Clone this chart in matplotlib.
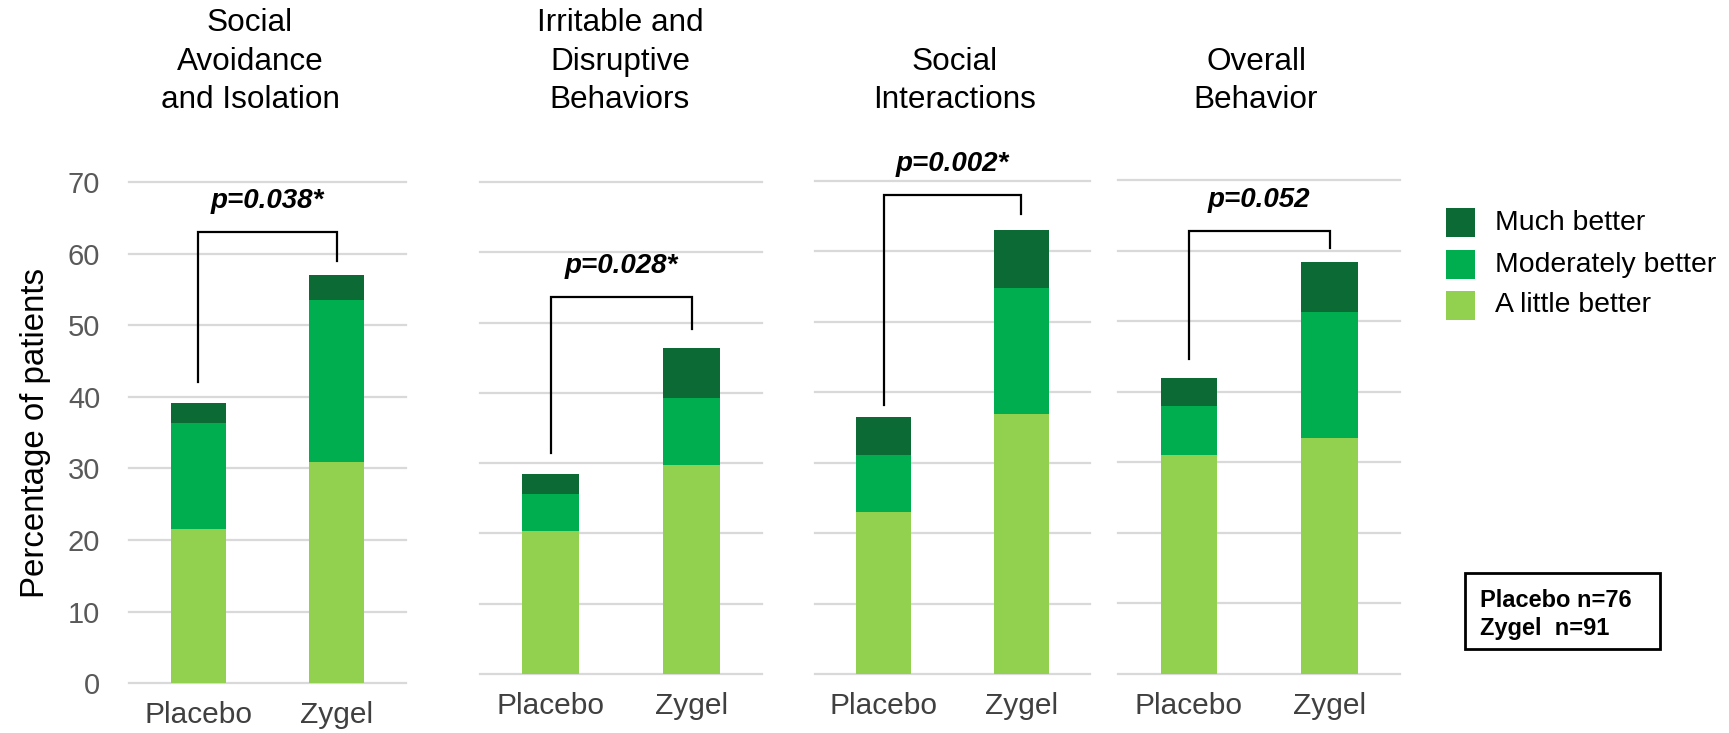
import matplotlib
matplotlib.use("Agg")
import matplotlib.pyplot as plt
from matplotlib.patches import Rectangle

plt.rcParams['font.family'] = ['Liberation Sans', 'DejaVu Sans']

# ---------------- data ----------------
panel_titles = ["Social\nAvoidance\nand Isolation",
                "Irritable and\nDisruptive\nBehaviors",
                "Social\nInteractions",
                "Overall\nBehavior"]
groups = ["Placebo", "Zygel"]
series_names = ["Much better", "Moderately better", "A little better"]

little_placebo = [21.5, 20.3, 23.0, 31.1]
little_zygel = [30.9, 29.8, 36.9, 33.4]
moderate_placebo = [14.9, 5.3, 8.0, 6.9]
moderate_zygel = [22.7, 9.5, 17.9, 17.9]
much_placebo = [2.7, 2.8, 5.5, 4.0]
much_zygel = [3.4, 7.1, 8.2, 7.1]

p_labels = ["p=0.038*", "p=0.028*", "p=0.002*", "p=0.052"]
bracket_top = [63.1, 53.7, 68.0, 62.8]
bracket_left_end = [42.1, 31.5, 38.1, 44.7]
bracket_right_end = [59.0, 49.1, 65.2, 60.4]

y_ticks = [0, 10, 20, 30, 40, 50, 60, 70]
n_lines = ["Placebo n=76", "Zygel  n=91"]

# ---------------- style ----------------
C_MUCH = "#0c6a34"
C_MOD = "#00ae4f"
C_LITTLE = "#92d050"
GRID = "#d9d9d9"

W, H = 1729, 733
fig = plt.figure(figsize=(W / 100, H / 100), dpi=100)

# axes boxes in pixels: left, right, y(0), y(70)
boxes = [(129.3, 406.0, 683.1, 182.3),
         (480.0, 762.3, 674.0, 182.0),
         (815.0, 1090.0, 674.0, 180.5),
         (1118.3, 1400.0, 674.0, 180.0)]
title_x = [250, 620, 955, 1256]

for i, (l, r, y0, y70) in enumerate(boxes):
    ax = fig.add_axes([l / W, 1 - y0 / H, (r - l) / W, (y0 - y70) / H])
    x = [0, 1]
    little = [little_placebo[i], little_zygel[i]]
    mod = [moderate_placebo[i], moderate_zygel[i]]
    much = [much_placebo[i], much_zygel[i]]
    b2 = [a + b for a, b in zip(little, mod)]
    ax.bar(x, little, width=0.4, color=C_LITTLE, zorder=3)
    ax.bar(x, mod, width=0.4, bottom=little, color=C_MOD, zorder=3)
    ax.bar(x, much, width=0.4, bottom=b2, color=C_MUCH, zorder=3)

    ax.set_xlim(-0.5, 1.5)
    ax.set_ylim(0, 70)
    ax.set_yticks(y_ticks)
    ax.yaxis.grid(True, color=GRID, linewidth=1.6)
    for gl in ax.get_ygridlines():
        gl.set_clip_on(False)
    ax.set_axisbelow(True)
    for s in ax.spines.values():
        s.set_visible(False)
    ax.set_xticks(x)
    ax.set_xticklabels(groups)
    ax.tick_params(axis='x', length=0, pad=13, labelsize=21.5, labelcolor="#404040")
    if i == 0:
        ax.tick_params(axis='y', length=0, pad=21, labelsize=21, labelcolor="#595959")
        ax.set_ylabel("Percentage of patients", fontsize=23.8, color="black", va='center')
        ax.yaxis.set_label_coords(-0.34, 0.5)
    else:
        ax.tick_params(axis='y', length=0, labelleft=False)

    # significance bracket
    ax.plot([0, 0, 1, 1],
            [bracket_left_end[i], bracket_top[i], bracket_top[i], bracket_right_end[i]],
            color="black", lw=1.6, clip_on=False, zorder=4, solid_joinstyle='miter')
    ax.text(0.5, bracket_top[i] + 4.3, p_labels[i], ha='center', va='center',
            fontsize=20, fontweight='bold', style='italic', clip_on=False)

    fig.text(title_x[i] / W, 1 - 115.5 / H, panel_titles[i], ha='center', va='bottom',
             fontsize=22.7, linespacing=1.38, multialignment='center', color="black")

# legend (manual)
leg_colors = [C_MUCH, C_MOD, C_LITTLE]
leg_tops = [208, 250, 291]
for name, col, top in zip(series_names, leg_colors, leg_tops):
    fig.add_artist(Rectangle((1446 / W, 1 - (top + 28.5) / H), 29 / W, 28.5 / H,
                             transform=fig.transFigure, facecolor=col, edgecolor='none'))
    fig.text(1495 / W, 1 - (top + 14.5) / H, name, ha='left', va='center',
             fontsize=20.4, color="black")

# n box
fig.add_artist(Rectangle((1465 / W, 1 - 649 / H), (1660 - 1465) / W, (649 - 573) / H,
                         transform=fig.transFigure, facecolor='none', edgecolor='black',
                         linewidth=2))
for txt, base in zip(n_lines, [606.8, 635.0]):
    fig.text(1480 / W, 1 - base / H, txt, ha='left', va='baseline',
             fontsize=17, fontweight='bold', color='black')

fig.savefig("out.png", dpi=100)
